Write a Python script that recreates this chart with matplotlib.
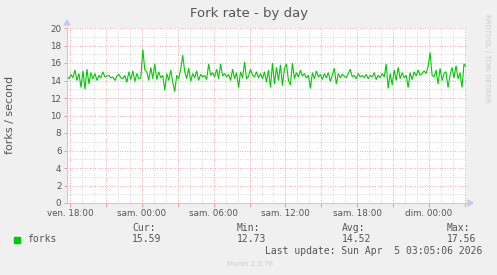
import matplotlib
matplotlib.use("Agg")
import matplotlib.pyplot as plt
from matplotlib.ticker import MultipleLocator
import numpy as np

# ---- data ----
start_hour = 17.75          # Fri 17:45 (hours since Fri 00:00)
step_hours = 1.0 / 6.0      # 10-minute samples
forks = [
    14.5, 14.2, 14.7, 14.3, 15.2, 14.0, 14.8, 13.2, 15.1, 13.0,
    15.3, 13.6, 14.9, 14.2, 14.8, 14.0, 14.6, 14.3, 15.0, 14.4,
    14.5, 14.6, 14.3, 14.4, 14.0, 14.5, 14.7, 14.3, 14.2, 14.6,
    13.8, 15.0, 14.1, 15.1, 13.9, 14.8, 14.2, 14.3, 17.56, 15.2,
    15.0, 14.0, 15.5, 14.2, 15.9, 14.1, 15.0, 14.3, 14.6, 12.9,
    14.8, 14.0, 15.2, 13.8, 12.73, 14.6, 14.2, 15.3, 16.9, 15.0,
    14.2, 15.4, 13.9, 14.8, 14.3, 15.1, 14.0, 14.7, 14.4, 14.6,
    14.1, 15.9, 14.6, 14.9, 14.4, 15.3, 14.2, 15.9, 14.5, 14.8,
    14.4, 14.7, 14.0, 15.3, 14.2, 14.9, 13.2, 15.0, 14.3, 16.1,
    14.2, 14.5, 15.3, 14.6, 14.4, 15.0, 14.3, 14.8, 14.2, 15.0,
    13.8, 15.2, 13.2, 16.0, 13.6, 15.5, 14.0, 15.8, 13.4, 15.4,
    15.9, 14.0, 13.5, 16.0, 14.2, 14.9, 14.4, 15.2, 14.5, 14.8,
    14.3, 14.6, 13.1, 14.9, 14.2, 15.1, 14.4, 14.7, 14.1, 14.8,
    14.3, 14.9, 13.9, 14.6, 15.4, 13.6, 14.8, 14.3, 14.7, 14.5,
    14.3, 14.8, 15.3, 14.4, 14.6, 14.2, 14.8, 14.4, 14.6, 14.3,
    14.7, 14.2, 14.6, 14.4, 14.9, 14.1, 14.6, 14.3, 14.8, 14.4,
    15.9, 13.1, 14.8, 13.5, 15.2, 14.0, 15.5, 14.2, 14.9, 14.3,
    14.6, 13.2, 14.9, 14.1, 15.0, 14.5, 15.2, 14.6, 14.8, 15.1,
    14.8, 15.6, 17.2, 14.6, 14.4, 15.2, 13.6, 15.4, 14.0, 14.8,
    15.0, 13.2, 14.6, 15.5, 14.3, 15.7, 14.2, 14.9, 13.2, 15.9,
    15.59,
]
tick_hours = [18, 24, 30, 36, 42, 48]
tick_labels = ["ven. 18:00", "sam. 00:00", "sam. 06:00", "sam. 12:00", "sam. 18:00", "dim. 00:00"]
stat_names = ["Cur:", "Min:", "Avg:", "Max:"]
stat_values = ["15.59", "12.73", "14.52", "17.56"]
series_name = "forks"
title = "Fork rate - by day"
ylabel = "forks / second"
last_update = "Last update: Sun Apr  5 03:05:06 2026"

# ---- figure ----
W, H = 497, 275
BG = "#F0F0F0"
fig = plt.figure(figsize=(W / 100, H / 100), dpi=100, facecolor=BG)

L, R, T, B = 67, 466, 28, 203
ax = fig.add_axes([L / W, 1 - B / H, (R - L) / W, (B - T) / H])
ax.set_facecolor("white")

x = start_hour + step_hours * np.arange(len(forks))
ax.set_xlim(start_hour, start_hour + 400 / 12.0)
ax.set_ylim(0, 20)

GRID_MINOR = "#C8C8C8"
GRID_MAJOR = "#F08A8A"
dots = (0, (1, 2))

# minor grid (1 h, 1 unit)
for xv in np.arange(18, 51.5, 1):
    if xv % 3:
        ax.axvline(xv, color=GRID_MINOR, linestyle=dots, linewidth=0.6, zorder=1)
for yv in np.arange(1, 20, 2):
    ax.axhline(yv, color=GRID_MINOR, linestyle=dots, linewidth=0.6, zorder=1)
# major grid (3 h, 2 units)
for xv in np.arange(18, 51.5, 3):
    ax.axvline(xv, color=GRID_MAJOR, linestyle=dots, linewidth=0.6, zorder=1)
for yv in np.arange(2, 20.5, 2):
    ax.axhline(yv, color=GRID_MAJOR, linestyle=dots, linewidth=0.6, zorder=1)

ax.plot(x, forks, color="#00CC00", linewidth=0.8, solid_joinstyle="miter", zorder=3)

ax.set_xticks(tick_hours)
ax.set_xticklabels(tick_labels)
ax.xaxis.set_minor_locator(MultipleLocator(3))
ax.yaxis.set_major_locator(MultipleLocator(2))
ax.tick_params(axis="x", which="both", length=3, color=GRID_MAJOR, width=0.6,
               labelsize=6.3, labelcolor="#555555", pad=1)
ax.tick_params(axis="y", which="major", length=2, color=GRID_MAJOR, width=0.6,
               labelsize=6.3, labelcolor="#555555", pad=2)

for s in ["top", "right"]:
    ax.spines[s].set_visible(False)
for s in ["left", "bottom"]:
    ax.spines[s].set_color("#C8C8F0")
    ax.spines[s].set_linewidth(0.8)
    ax.spines[s].set_zorder(4)

# axis arrows
fig.patches.append(plt.Polygon([[(L - 3) / W, 1 - 25 / H], [(L + 3) / W, 1 - 25 / H], [L / W, 1 - 20 / H]],
                               closed=True, transform=fig.transFigure, color="#C8C8F0", figure=fig))
fig.patches.append(plt.Polygon([[468 / W, 1 - 200 / H], [468 / W, 1 - 206 / H], [473 / W, 1 - 203 / H]],
                               closed=True, transform=fig.transFigure, color="#C8C8F0", figure=fig))

def ftext(px, py, s, **kw):
    fig.text(px / W, 1 - py / H, s, **kw)

ftext(249, 13, title, ha="center", va="center", fontsize=9.5, color="#555555", family="DejaVu Sans")
ftext(10, 115, ylabel, ha="center", va="center", rotation=90, fontsize=8, color="#555555", family="DejaVu Sans")
ftext(487, 58, "RRDTOOL / TOBI OETIKER", ha="center", va="center", rotation=270, fontsize=5,
      color="#CCCCCC", family="DejaVu Sans")

mono = dict(family="DejaVu Sans Mono", fontsize=7, color="#555555", va="center")
fig.patches.append(plt.Rectangle((14 / W, 1 - 243 / H), 6 / W, 6 / H, transform=fig.transFigure,
                                 color="#00CC00", figure=fig))
ftext(27, 239, series_name, ha="left", **mono)
for cx, nm, val in zip([132, 237, 342, 447], stat_names, stat_values):
    ftext(cx, 228, nm, ha="left", **mono)
    ftext(cx, 239, val, ha="left", **mono)
ftext(482, 251, last_update, ha="right", **mono)
ftext(250, 264, "Munin 2.0.76", ha="center", va="center", fontsize=5, color="#CCCCCC", family="DejaVu Sans")

fig.savefig("out.png", dpi=100, facecolor=BG)
